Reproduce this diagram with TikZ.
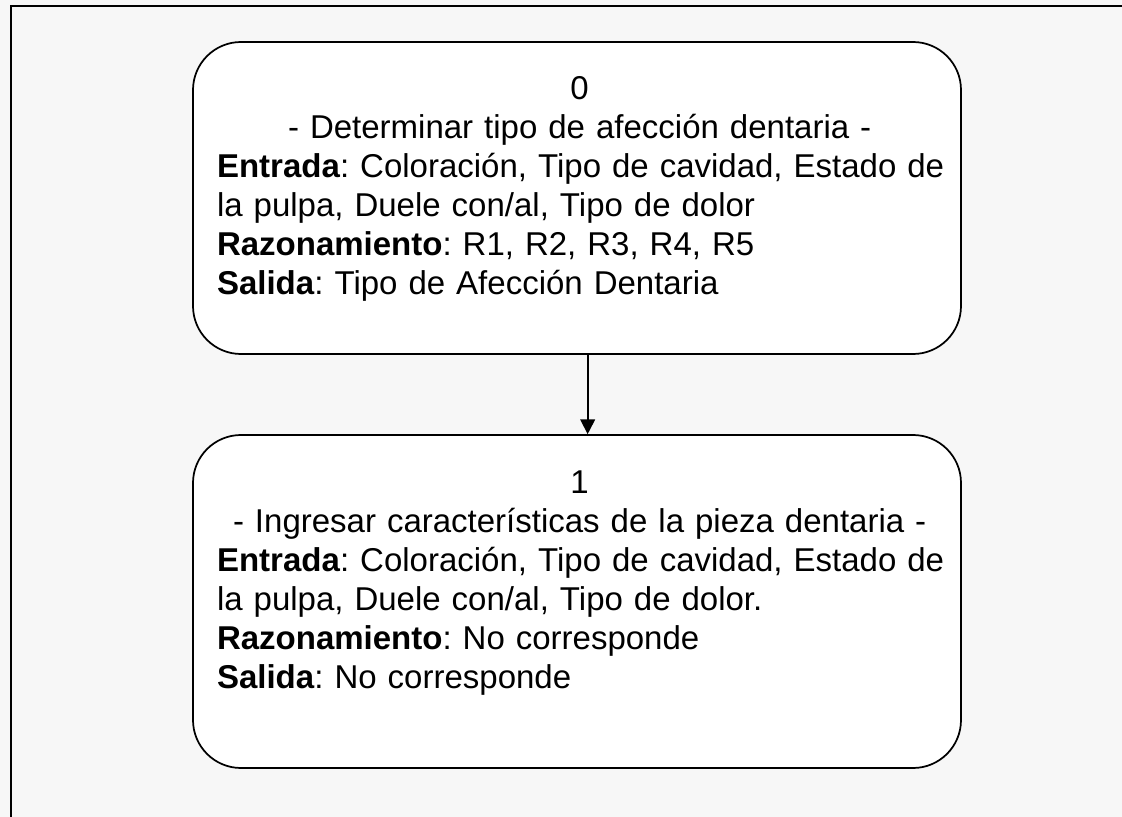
\documentclass[tikz,border=0pt]{standalone}
\usepackage{fontspec}
\setmainfont{Liberation Sans}
\usetikzlibrary{positioning,arrows.meta}
\frenchspacing

\tikzset{
  fase/.style={draw, line width=1.3pt, rounded corners=36pt, fill=white, minimum width=576pt, inner sep=0pt},
  fasetxt/.style={text width=544pt, align=left, inner sep=0pt, font=\fontsize{24.75}{29.25}\selectfont},
}

\begin{document}
\begin{tikzpicture}[x=0.75pt,y=0.75pt,yscale=-1,xscale=1]
\useasboundingbox (0,0) rectangle (1122,817);
\fill[black!3] (0,0) rectangle (1122,817);

%Frame
\draw[line width=1.5pt] (11,817) -- (11,6) -- (1122,6);

%Rounded Rect
\node[fase, minimum height=234pt] (b0) at (577,198) {};
%Rounded Rect
\node[fase, minimum height=249.75pt] (b1) at (577,601.5) {};

% Text Node
\node[fasetxt, below=26pt of b0.north, xshift=2pt] (t0) {{\centering 0\\- Determinar tipo de afección dentaria -\par}
\mbox{\textbf{Entrada}: Coloración, Tipo de cavidad, Estado de}\\
la pulpa, Duele con/al, Tipo de dolor\\
\textbf{Razonamiento}: R1, R2, R3, R4, R5\\
\textbf{Salida}: Tipo de Afección Dentaria};
% Text Node
\node[fasetxt, below=27pt of b1.north, xshift=2pt] (t1) {{\centering 1\\- Ingresar características de la pieza dentaria -\par}
\mbox{\textbf{Entrada}: Coloración, Tipo de cavidad, Estado de}\\
la pulpa, Duele con/al, Tipo de dolor.\\
\textbf{Razonamiento}: No corresponde\\
\textbf{Salida}: No corresponde};

%Arrow
\draw[-{Triangle[length=11pt,width=11pt]}, line width=1.3pt] ([xshift=8pt]b0.south) -- ([xshift=8pt]b1.north);

\end{tikzpicture}
\end{document}
